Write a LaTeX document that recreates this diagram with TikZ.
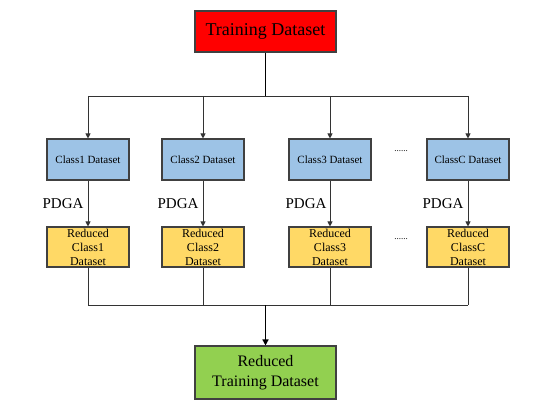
\documentclass[tikz,border=0pt]{standalone}
\usepackage{fontspec}
\setmainfont{Liberation Serif}
\usetikzlibrary{arrows.meta}
\begin{document}
\begin{tikzpicture}[x=1pt,y=-1pt,
  box/.style={draw=black!75, line width=1.1pt, minimum width=82pt, inner sep=0pt, align=center},
  classbox/.style={box, fill=blueish, minimum height=41pt, font=\fontsize{11}{12}\selectfont},
  redbox/.style={box, fill=yellowish, minimum height=40pt, font=\fontsize{12}{14}\selectfont},
  conn/.style={draw=black!80, line width=0.8pt},
  arr/.style={conn, -{Triangle[length=5pt,width=5pt]}},
  lbl/.style={font=\fontsize{15}{16}\selectfont, inner sep=0pt},
  dots/.style={font=\fontsize{9}{10}\selectfont, inner sep=0pt}
]
\definecolor{blueish}{HTML}{9DC3E6}
\definecolor{yellowish}{HTML}{FFD966}
\definecolor{greenish}{HTML}{92D050}
\useasboundingbox (0,0) rectangle (542,406);

\node[box, fill=red, minimum width=141pt, minimum height=41pt, font=\fontsize{18}{20}\selectfont] (train) at (265.5,31.5) {Training Dataset};

\node[classbox] (c1) at (88,159.5) {Class1 Dataset};
\node[classbox] (c2) at (203,159.5) {Class2 Dataset};
\node[classbox] (c3) at (330,159.5) {Class3 Dataset};
\node[classbox] (cc) at (468,159.5) {ClassC Dataset};

\node[redbox] (r1) at (88,247) {Reduced\\Class1\\Dataset};
\node[redbox] (r2) at (203,247) {Reduced\\Class2\\Dataset};
\node[redbox] (r3) at (330,247) {Reduced\\Class3\\Dataset};
\node[redbox] (rc) at (468,247) {Reduced\\ClassC\\Dataset};

\node[box, fill=greenish, minimum width=141pt, minimum height=53pt, font=\fontsize{16}{20}\selectfont] (rt) at (265.5,372.5) {Reduced\\Training Dataset};

\coordinate (top) at (265.5,96);
\coordinate (bot) at (265.5,305.5);

\draw[draw=black, line width=1.5pt] (train.south) -- (top);
\draw[conn] (c1.north |- top) -- (cc.north |- top);
\foreach \n in {c1,c2,c3,cc} \draw[arr] (\n.north |- top) -- (\n.north);

\draw[arr] (c1) -- (r1);
\draw[arr] (c2) -- (r2);
\draw[arr] (c3) -- (r3);
\draw[arr] (cc) -- (rc);

\node[lbl] (p1) at (63,204) {PDGA};
\node[lbl] (p2) at (178,204) {PDGA};
\node[lbl] (p3) at (306,204) {PDGA};
\node[lbl] (pc) at (443,204) {PDGA};

\node[dots] (d1) at (401,151) {......};
\node[dots] (d2) at (401,239) {......};

\foreach \n in {r1,r2,r3,rc} \draw[conn] (\n.south) -- (\n.south |- bot);
\draw[conn] (r1.south |- bot) -- (rc.south |- bot);
\draw[draw=black, line width=1.5pt, -{Triangle[length=6pt,width=6pt]}] (bot) -- (rt.north);
\end{tikzpicture}
\end{document}
